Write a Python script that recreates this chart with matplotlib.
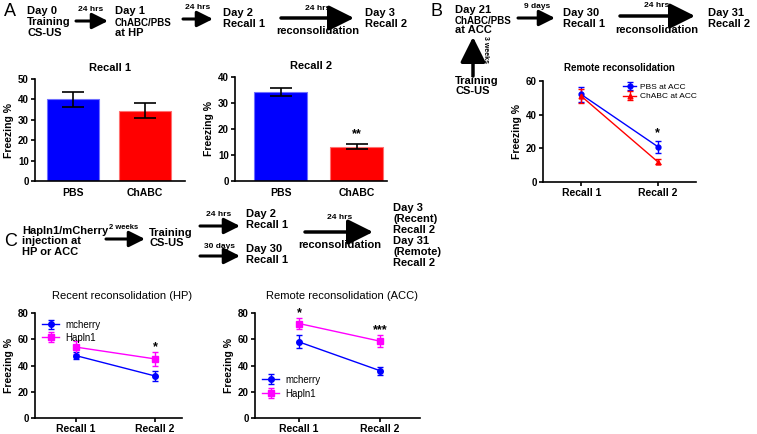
import matplotlib
matplotlib.use("Agg")
import matplotlib.pyplot as plt

plt.rcParams['font.family'] = ['Liberation Sans', 'DejaVu Sans']

W, H = 757, 434

# ---- data ----
bar_groups = ['PBS', 'ChABC']
recall1_mean = [40.0, 34.5]
recall1_err = [3.5, 3.7]
recall2_mean = [34.2, 13.2]
recall2_err = [1.6, 1.0]

sessions = ['Recall 1', 'Recall 2']
b_pbs_mean = [52.0, 21.0]
b_pbs_err = [4.5, 3.5]
b_chabc_mean = [51.0, 12.0]
b_chabc_err = [4.0, 1.5]

hp_mcherry_mean = [47.5, 32.0]
hp_mcherry_err = [2.5, 3.5]
hp_hapln1_mean = [54.0, 45.0]
hp_hapln1_err = [5.0, 5.0]

acc_mcherry_mean = [58.0, 36.0]
acc_mcherry_err = [5.0, 3.0]
acc_hapln1_mean = [72.0, 58.5]
acc_hapln1_err = [4.0, 4.5]

BLUE = '#0000ff'
RED = '#ff0000'
MAGENTA = '#ff00ff'


def px_axes(fig, l, t, r, b):
    """Axes placed by pixel box (left, top, right, bottom)."""
    return fig.add_axes([l / W, 1 - b / H, (r - l) / W, (b - t) / H])


def style(ax, ylim, yticks):
    ax.spines['top'].set_visible(False)
    ax.spines['right'].set_visible(False)
    for s in ('left', 'bottom'):
        ax.spines[s].set_linewidth(1.2)
    ax.set_ylim(*ylim)
    ax.set_yticks(yticks)
    ax.tick_params(width=1.2, length=3, labelsize=7, pad=1.5)
    for lab in ax.get_yticklabels():
        lab.set_fontweight('bold')
    ax.set_ylabel('Freezing %', fontsize=7.5, fontweight='bold', labelpad=3)


fig = plt.figure(figsize=(W / 100, H / 100), dpi=100)

# ---- overlay for schematic text and arrows (pixel coords) ----
ov = fig.add_axes([0, 0, 1, 1])
ov.set_xlim(0, W)
ov.set_ylim(H, 0)
ov.axis('off')


def txt(x, y, s, size=8, ha='left', bold=True, **kw):
    ov.text(x, y, s, fontsize=size, ha=ha, va='top',
            fontweight='bold' if bold else 'normal', **kw)


def lines(x, y, rows, step=11):
    # rows: plain strings, or (string, size) for the narrower lines
    for i, r in enumerate(rows):
        if isinstance(r, tuple):
            txt(x, y + i * step + 1, r[0], size=r[1])
        else:
            txt(x, y + i * step, r)


def arrow(x1, y1, x2, y2, big=False):
    if big:
        props = dict(arrowstyle='-|>,head_length=1.1,head_width=0.55',
                     lw=2.5, color='k', mutation_scale=14, shrinkA=0, shrinkB=0)
    else:
        props = dict(arrowstyle='-|>,head_length=0.8,head_width=0.4',
                     lw=2.2, color='k', mutation_scale=12, shrinkA=0, shrinkB=0)
    ov.annotate('', xy=(x2, y2), xytext=(x1, y1), arrowprops=props)


# panel A schematic
txt(4, 3, 'A', size=13, bold=False)
lines(27, 6, ['Day 0', 'Training', 'CS-US'])
arrow(76, 21, 108, 21)
txt(91, 6, '24 hrs', size=6, ha='center')
lines(115, 6, ['Day 1', ('ChABC/PBS', 7), 'at HP'])
arrow(183, 19, 213, 19)
txt(198, 4, '24 hrs', size=6, ha='center')
lines(223, 8, ['Day 2', 'Recall 1'])
arrow(281, 18, 354, 18, big=True)
txt(318, 5, '24 hrs', size=6, ha='center')
txt(318, 26, 'reconsolidation', ha='center')
lines(365, 8, ['Day 3', 'Recall 2'])

# panel B schematic
txt(431, 3, 'B', size=13, bold=False)
lines(455, 5, ['Day 21', ('ChABC/PBS', 7), 'at ACC'], step=10)
arrow(473, 76, 473, 37, big=True)
ov.text(486, 50, '3 weeks', fontsize=5, fontweight='bold', rotation=-90,
        ha='center', va='center')
lines(455, 76, ['Training', 'CS-US'], step=10)
arrow(518, 18, 555, 18)
txt(537, 3, '9 days', size=6, ha='center')
lines(563, 8, ['Day 30', 'Recall 1'])
arrow(620, 16, 695, 16, big=True)
txt(657, 2, '24 hrs', size=6, ha='center')
txt(657, 25, 'reconsolidation', ha='center')
lines(708, 8, ['Day 31', 'Recall 2'])

# panel C schematic
txt(4, 233, 'C', size=13, bold=False)
lines(22, 226, ['Hapln1/mCherry', 'injection at', 'HP or ACC'], step=10.5)
arrow(106, 239, 145, 239)
txt(124, 224, '2 weeks', size=5.5, ha='center')
lines(149, 228, ['Training', 'CS-US'], step=10.5)
arrow(200, 226, 240, 226)
txt(219, 211, '24 hrs', size=6, ha='center')
lines(246, 209, ['Day 2', 'Recall 1'])
arrow(200, 256, 240, 256)
txt(220, 243, '30 days', size=6, ha='center')
lines(246, 244, ['Day 30', 'Recall 1'])
arrow(305, 232, 373, 232, big=True)
txt(340, 214, '24 hrs', size=6, ha='center')
txt(340, 240, 'reconsolidation', ha='center')
lines(393, 203, ['Day 3', '(Recent)', 'Recall 2', 'Day 31', '(Remote)',
                 'Recall 2'], step=11)

# ---- A: Recall 1 bars ----
ax = px_axes(fig, 35, 79, 185, 181)
xpos = range(len(bar_groups))
ax.bar(xpos, recall1_mean, width=0.72, color=[BLUE, RED],
       edgecolor=['#6f6fff', '#ff7070'], lw=0.8)
ax.errorbar(xpos, recall1_mean, yerr=recall1_err, fmt='none', ecolor='k',
            elinewidth=1.2, capsize=8, capthick=1.2)
ax.set_xlim(-0.53, 1.56)
style(ax, (0, 50), [0, 10, 20, 30, 40, 50])
ax.set_xticks(list(xpos))
ax.set_xticklabels(bar_groups, fontsize=7.5, fontweight='bold')
ax.tick_params(axis='x', length=0, pad=5)
ax.set_title('Recall 1', fontsize=8, fontweight='bold', pad=6)

# ---- A: Recall 2 bars ----
ax = px_axes(fig, 235, 77, 387, 181)
ax.bar(xpos, recall2_mean, width=0.7, color=[BLUE, RED],
       edgecolor=['#6f6fff', '#ff7070'], lw=0.8)
ax.errorbar(xpos, recall2_mean, yerr=recall2_err, fmt='none', ecolor='k',
            elinewidth=1.2, capsize=8, capthick=1.2)
ax.set_xlim(-0.6, 1.4)
style(ax, (0, 40), [0, 10, 20, 30, 40])
ax.set_xticks(list(xpos))
ax.set_xticklabels(bar_groups, fontsize=7.5, fontweight='bold')
ax.tick_params(axis='x', length=0, pad=5)
ax.set_title('Recall 2', fontsize=8, fontweight='bold', pad=6)
ax.text(1, recall2_mean[1] + recall2_err[1] + 2.5, '**', ha='center',
        fontsize=9, fontweight='bold')

# ---- B: remote reconsolidation ----
ax = px_axes(fig, 543, 81, 696, 182)
xs = range(len(sessions))
ax.errorbar(xs, b_pbs_mean, yerr=b_pbs_err, color=BLUE, marker='o', ms=3.5,
            lw=1, capsize=2, label='PBS at ACC')
ax.errorbar(xs, b_chabc_mean, yerr=b_chabc_err, color=RED, marker='^', ms=3.5,
            lw=1, capsize=2, label='ChABC at ACC')
ax.set_xlim(-0.5, 1.5)
style(ax, (0, 60), [0, 20, 40, 60])
ax.set_xticks(list(xs))
ax.set_xticklabels(sessions, fontsize=7.5, fontweight='bold')
ax.set_title('Remote reconsolidation', fontsize=7, fontweight='bold', pad=7)
ax.text(1, b_pbs_mean[1] + b_pbs_err[1] + 3, '*', ha='center', fontsize=9,
        fontweight='bold')
ax.legend(loc='upper right', fontsize=6, frameon=False, handlelength=1.6,
          borderaxespad=0.1, labelspacing=0.2, handletextpad=0.4,
          bbox_to_anchor=(1.03, 1.02))

# ---- C: recent reconsolidation (HP) ----
ax = px_axes(fig, 35, 313, 182, 418)
ax.errorbar(xs, hp_mcherry_mean, yerr=hp_mcherry_err, color=BLUE, marker='o',
            ms=4, lw=1, capsize=2, label='mcherry')
ax.errorbar(xs, hp_hapln1_mean, yerr=hp_hapln1_err, color=MAGENTA, marker='s',
            ms=4, lw=1, capsize=2, label='Hapln1')
ax.set_xlim(-0.52, 1.34)
style(ax, (0, 80), [0, 20, 40, 60, 80])
ax.set_xticks(list(xs))
ax.set_xticklabels(sessions, fontsize=7.5, fontweight='bold')
ax.text(1, hp_hapln1_mean[1] + hp_hapln1_err[1] + 1.5, '*', ha='center',
        fontsize=9, fontweight='bold')
ax.legend(loc='upper left', fontsize=7, frameon=False, handlelength=1.8,
          borderaxespad=0.3, labelspacing=0.3, handletextpad=0.6)
fig.text(122 / W, 1 - 296 / H, 'Recent reconsolidation (HP)', fontsize=8,
         ha='center', va='center')

# ---- C: remote reconsolidation (ACC) ----
ax = px_axes(fig, 255, 313, 420, 418)
ax.errorbar(xs, acc_mcherry_mean, yerr=acc_mcherry_err, color=BLUE, marker='o',
            ms=4, lw=1, capsize=2, label='mcherry')
ax.errorbar(xs, acc_hapln1_mean, yerr=acc_hapln1_err, color=MAGENTA, marker='s',
            ms=4, lw=1, capsize=2, label='Hapln1')
ax.set_xlim(-0.54, 1.49)
style(ax, (0, 80), [0, 20, 40, 60, 80])
ax.set_xticks(list(xs))
ax.set_xticklabels(sessions, fontsize=7.5, fontweight='bold')
ax.text(0, acc_hapln1_mean[0] + acc_hapln1_err[0] + 1.5, '*', ha='center',
        fontsize=9, fontweight='bold')
ax.text(1, acc_hapln1_mean[1] + acc_hapln1_err[1] + 1.5, '***', ha='center',
        fontsize=9, fontweight='bold')
ax.legend(loc='lower left', fontsize=7, frameon=False, handlelength=1.8,
          borderaxespad=0.3, labelspacing=0.4, handletextpad=0.6,
          bbox_to_anchor=(0.0, 0.12))
fig.text(342 / W, 1 - 296 / H, 'Remote reconsolidation (ACC)', fontsize=8,
         ha='center', va='center')

fig.savefig('out.png', dpi=100, facecolor='white')
